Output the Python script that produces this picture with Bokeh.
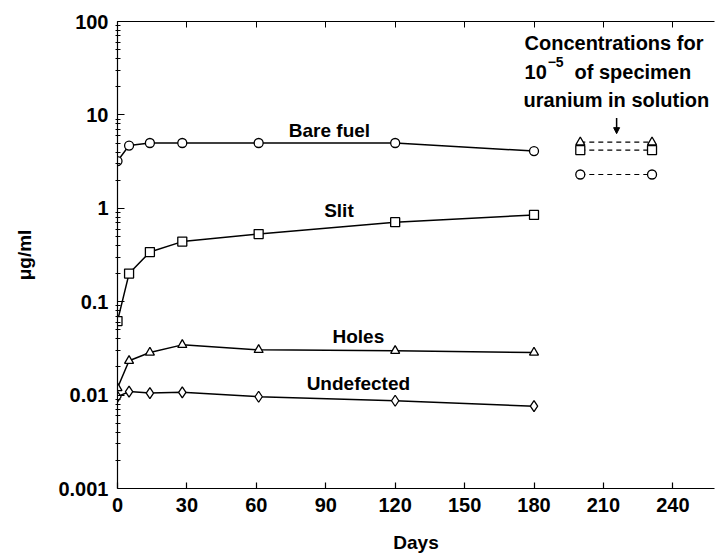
from bokeh.plotting import figure
from bokeh.models import (FixedTicker, CustomJSTickFormatter, LinearAxis, Label,
                          Arrow, NormalHead)
from bokeh.embed import file_html
from bokeh.resources import INLINE

# ---- data ----
days = [0, 5, 14, 28, 61, 120, 180]
bare_fuel = [3.2, 4.7, 5.0, 5.0, 5.0, 5.0, 4.1]
slit = [0.062, 0.20, 0.34, 0.44, 0.53, 0.71, 0.85]
holes = [0.0119, 0.0233, 0.0286, 0.0345, 0.0305, 0.0298, 0.0286]
undefected = [0.0096, 0.0109, 0.0105, 0.0107, 0.0096, 0.0087, 0.0076]

ref_days = [200, 231]
ref_holes = [5.1, 5.1]
ref_slit = [4.2, 4.2]
ref_bare = [2.3, 2.3]

x_ticks = [0, 30, 60, 90, 120, 150, 180, 210, 240]
y_ticks = [0.001, 0.01, 0.1, 1, 10, 100]
y_minor = [k * 10.0 ** e for e in range(-3, 2) for k in range(2, 10)]

FONT = "Liberation Sans"

p = figure(width=716, height=555, x_range=(0, 258), y_range=(0.001, 100),
           y_axis_type="log", output_backend="svg", toolbar_location=None,
           min_border_left=117, min_border_right=2, min_border_top=21,
           min_border_bottom=65)
p.grid.visible = False
p.outline_line_color = None
p.background_fill_color = "white"
p.border_fill_color = "white"

# x axis
xa = p.xaxis[0]
xa.ticker = FixedTicker(ticks=x_ticks)
xa.major_tick_in = 6
xa.major_tick_out = 0
xa.minor_tick_line_color = None
xa.axis_line_width = 1.2
xa.major_tick_line_width = 1.2
xa.major_label_standoff = 9
xa.major_label_text_font = FONT
xa.major_label_text_font_style = "bold"
xa.major_label_text_font_size = "20px"
xa.major_label_text_color = "black"
xa.axis_label = "Days"
xa.axis_label_text_font = FONT
xa.axis_label_text_font_style = "bold"
xa.axis_label_text_font_size = "19px"
xa.axis_label_text_color = "black"
xa.axis_label_standoff = 17

# y axis
ya = p.yaxis[0]
ya.ticker = FixedTicker(ticks=y_ticks, minor_ticks=y_minor)
ya.formatter = CustomJSTickFormatter(code="return String(parseFloat(tick.toPrecision(3)));")
ya.major_tick_in = 7
ya.major_tick_out = 0
ya.minor_tick_in = 3
ya.minor_tick_out = 2
ya.axis_line_width = 1.2
ya.major_tick_line_width = 1.2
ya.major_label_standoff = 7
ya.major_label_text_font = FONT
ya.major_label_text_font_style = "bold"
ya.major_label_text_font_size = "20px"
ya.major_label_text_color = "black"
ya.axis_label = "μg/ml"
ya.axis_label_text_font = FONT
ya.axis_label_text_font_style = "bold"
ya.axis_label_text_font_size = "19px"
ya.axis_label_text_color = "black"
ya.axis_label_standoff = 20

# top frame line with inward ticks
top = LinearAxis(ticker=FixedTicker(ticks=x_ticks),
                 formatter=CustomJSTickFormatter(code="return '';"),
                 major_tick_in=6, major_tick_out=0, major_label_standoff=0,
                 major_label_text_font_size="0px", axis_line_width=1.0,
                 minor_tick_line_color=None)
p.add_layout(top, "above")

# series
series = [(bare_fuel, "circle"), (slit, "square"), (holes, "triangle"),
          (undefected, "diamond")]
for vals, mk in series:
    p.line(days, vals, line_color="black", line_width=1.5)
    size = 11 if mk == "diamond" else 9
    p.scatter(days, vals, marker=mk, size=size, fill_color="white",
              line_color="black", line_width=1.3)

# reference concentrations (dashed)
for vals, mk in [(ref_slit, "square"), (ref_holes, "triangle"), (ref_bare, "circle")]:
    p.line(ref_days, vals, line_color="black", line_width=1.2, line_dash="5 4")
    p.scatter(ref_days, vals, marker=mk, size=9, fill_color="white",
              line_color="black", line_width=1.3)

# labels
def lab(x, y, text, size="19px", align="center"):
    p.add_layout(Label(x=x, y=y, text=text, text_font=FONT, text_font_style="bold",
                       text_font_size=size, text_align=align, y_offset=6,
                       text_baseline="alphabetic", text_color="black"))

lab(91.6, 5.94, "Bare fuel")
lab(95.7, 0.813, "Slit")
lab(104.1, 0.0366, "Holes")
lab(104.1, 0.01135, "Undefected")

# annotation text
lab(175.9, 50.3, "Concentrations for", "20px", "left")
lab(175.9, 24.7, "10", "20px", "left")
lab(185.9, 31.5, "\u22125", "14px", "left")
lab(197.5, 24.7, "of specimen", "20px", "left")
lab(175.5, 12.4, "uranium in solution", "20px", "left")

p.add_layout(Arrow(end=NormalHead(size=6, fill_color="black", line_color="black"),
                   x_start=215.7, y_start=9.25, x_end=215.7, y_end=6.3,
                   line_color="black", line_width=1.5))

open("out.html", "w").write(file_html(p, INLINE))
